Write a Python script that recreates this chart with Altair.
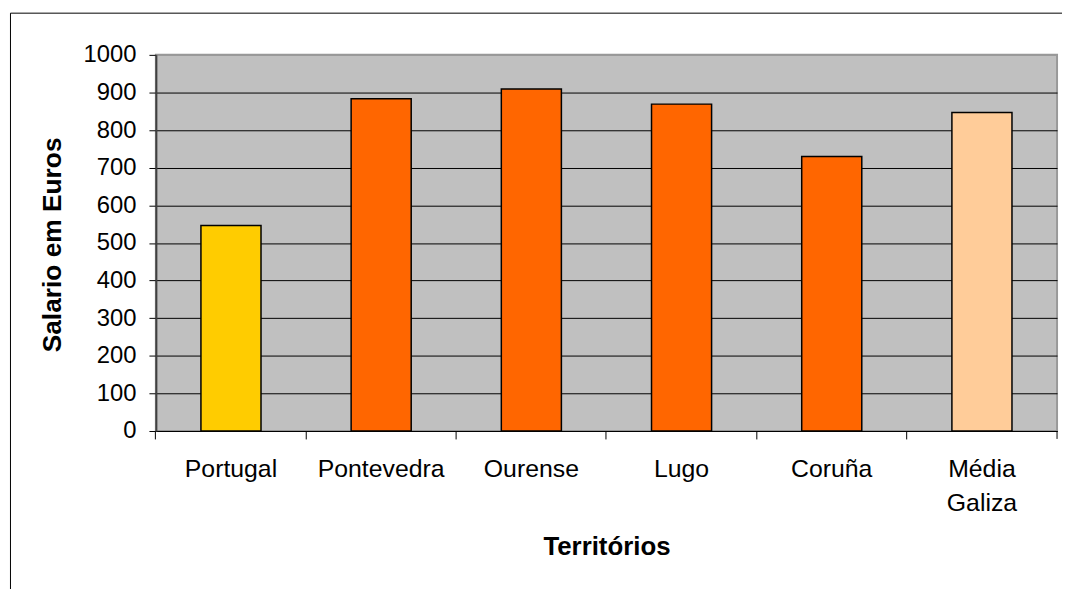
import altair as alt
import pandas as pd

categories = ["Portugal", "Pontevedra", "Ourense", "Lugo", "Coruña", "Média Galiza"]
salaries = [546, 883, 909, 869, 730, 847]
colors = ["#FFCC00", "#FF6600", "#FF6600", "#FF6600", "#FF6600", "#FFCC99"]
y_ticks = [0, 100, 200, 300, 400, 500, 600, 700, 800, 900, 1000]

df = pd.DataFrame({"Territórios": categories, "Salario": salaries})

FONT = "Liberation Sans"
W, H = 908, 379
STEP = W / len(categories)

x_scale = alt.Scale(domain=categories, paddingInner=0.6, paddingOuter=0.3)

bars = alt.Chart(df).mark_bar(stroke="black", strokeWidth=1.5).encode(
    x=alt.X(
        "Territórios:N",
        sort=categories,
        scale=x_scale,
        axis=alt.Axis(
            title="Territórios",
            labelAngle=0,
            labelFont=FONT,
            labelFontSize=25,
            labelColor="black",
            labelPadding=18,
            labelLineHeight=34,
            labelExpr="split(datum.value, ' ')",
            bandPosition=-0.75,
            tickSize=8,
            tickColor="black",
            domainColor="black",
            domainWidth=1,
            titleFont=FONT,
            titleFontSize=26,
            titleFontWeight="bold",
            titleColor="black",
            titleX=W / 2,
            titleY=116,
            titleAlign="center",
            titleBaseline="middle",
            grid=False,
        ),
    ),
    y=alt.Y(
        "Salario:Q",
        scale=alt.Scale(domain=[0, 1000], nice=False),
        axis=alt.Axis(
            title="Salario em Euros",
            values=y_ticks,
            format="d",
            labelFont=FONT,
            labelFontSize=24,
            labelColor="black",
            labelPadding=13,
            tickSize=7,
            tickColor="black",
            domainColor="#404040",
            domainWidth=2,
            grid=True,
            gridColor=alt.condition("datum.value == 1000", alt.value("#999999"), alt.value("black")),
            gridWidth=1,
            titleFont=FONT,
            titleFontSize=26.5,
            titleFontWeight="bold",
            titleColor="black",
            titleX=-104,
            titleY=191,
            titleAngle=270,
            titleAlign="center",
            titleBaseline="middle",
        ),
    ),
    color=alt.Color(
        "Territórios:N",
        scale=alt.Scale(domain=categories, range=colors),
        legend=None,
    ),
)

# closing tick at the right end of the category axis
end_tick = alt.Chart(df).transform_filter(
    alt.datum["Territórios"] == categories[-1]
).mark_rule(color="black", strokeWidth=1, xOffset=0.3 * STEP).encode(
    x=alt.X("Territórios:N", sort=categories, scale=x_scale, bandPosition=1),
    y=alt.value(H),
    y2=alt.value(H + 8),
)

frame = alt.Chart(alt.Data(values=[{}])).mark_rect(
    fill=None, stroke="black", strokeWidth=1
).encode(
    x=alt.value(-146.5),
    x2=alt.value(1000),
    y=alt.value(-42),
    y2=alt.value(700),
)

chart = alt.layer(frame, bars, end_tick).properties(
    width=W,
    height=H,
    background="white",
    padding={"left": 149, "top": 45, "right": 5, "bottom": 157},
    autosize=alt.AutoSizeParams(type="none"),
).configure_view(
    fill="#C0C0C0",
    stroke="#999999",
    strokeWidth=2,
)

chart.save("out.html", embed_options={"renderer": "svg", "actions": False})
